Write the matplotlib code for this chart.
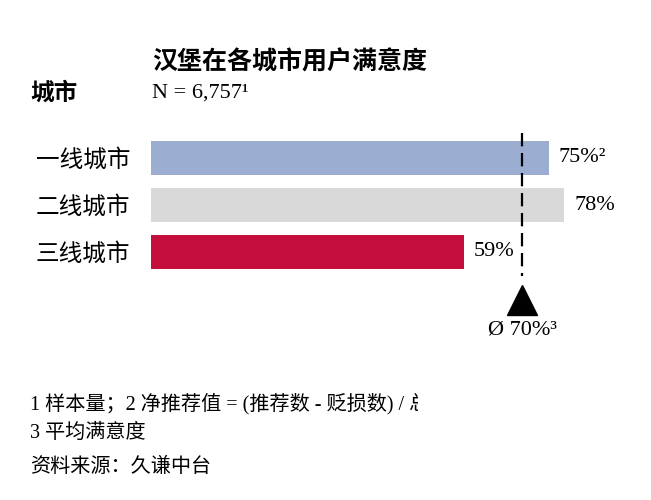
import matplotlib
matplotlib.use("Agg")
import matplotlib.pyplot as plt

plt.rcParams["font.family"] = ["Liberation Serif", "Noto Sans CJK SC", "DejaVu Sans"]

cities = ["一线城市", "二线城市", "三线城市"]
scores = [75, 78, 59]
score_labels = ["75%²", "78%", "59%"]
bar_colors = ["#9badd0", "#d9d9d9", "#c40f3c"]
average = 70
average_label = "Ø 70%³"

title = "汉堡在各城市用户满意度"
sample_note = "N = 6,757¹"
footnotes = [
    "1 样本量；2 净推荐值 = (推荐数 - 贬损数) / 总数",
    "3 平均满意度",
    "资料来源：久谦中台",
]

W, H = 651, 500
fig = plt.figure(figsize=(W / 100, H / 100), dpi=100)


def px(x, y):
    return x / W, 1 - y / H


# bar area: 0% at x=151px, 5.3 px per %
left, top, bottom = 151, 120, 340
xmax = 94
ax = fig.add_axes([left / W, 1 - bottom / H, xmax * 5.3 / W, (bottom - top) / H])
step = 47
ax.set_xlim(0, xmax)
ax.set_ylim((bottom - 158) / step, -(158 - top) / step)

ypos = list(range(len(cities)))
ax.barh(ypos, scores, height=34 / step, color=bar_colors)
for y, v, lab in zip(ypos, scores, score_labels):
    ax.annotate(lab, (v, y), xytext=(7, 0), textcoords="offset points",
                va="center", ha="left", fontsize=16)

ax.plot([average, average], [(133 - 158) / step, (276 - 158) / step],
        color="black", lw=1.6, linestyle=(0, (6, 3)))
ax.plot([average], [(300 - 158) / step], marker="^", markersize=21,
        color="black", linestyle="none")
ax.text(average, (330 - 158) / step, average_label, ha="center", va="center",
        fontsize=16)

ax.set_yticks(ypos)
ax.set_yticklabels(cities, fontsize=17)
ax.tick_params(axis="y", length=0, pad=15)
ax.set_xticks([])
for s in ax.spines.values():
    s.set_visible(False)
ax.patch.set_alpha(0)

fig.text(*px(290, 62), title, ha="center", va="center", fontsize=18,
         fontweight="bold")
fig.text(*px(30, 93), "城市", ha="left", va="center", fontsize=17,
         fontweight="bold")
fig.text(*px(152, 93), sample_note, ha="left", va="center", fontsize=16)

# footnotes, first line is cut off on the right
fax = fig.add_axes([0, 0, 418 / W, 1])
fax.set_axis_off()
fax.set_xlim(0, 418)
fax.set_ylim(H, 0)
for y, line in zip([404, 433, 467], footnotes):
    fax.text(30, y, line, ha="left", va="center", fontsize=14.5, clip_on=True)

fig.savefig("out.png", dpi=100)
